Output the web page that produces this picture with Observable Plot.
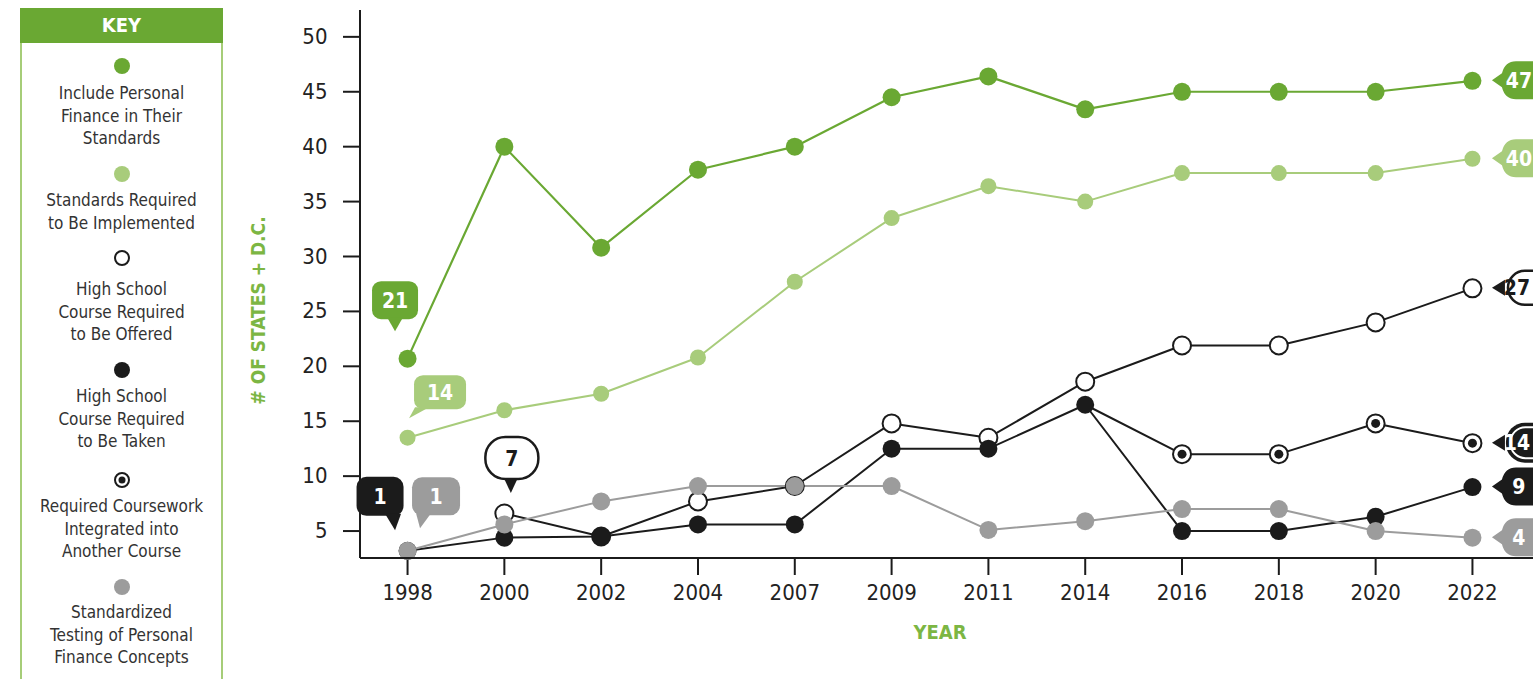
<!DOCTYPE html>
<html>
<head>
<meta charset="utf-8">
<script src="https://cdn.jsdelivr.net/npm/d3@7"></script>
<script src="https://cdn.jsdelivr.net/npm/@observablehq/plot@0.6"></script>
<style>
  html, body { margin: 0; padding: 0; background: #fff; overflow: hidden; }
  body { width: 1533px; height: 679px; position: relative;
    font-family: "Liberation Sans Narrow", "DejaVu Sans Condensed", "Roboto Condensed", Roboto, sans-serif; }
  #chart { position: absolute; left: 0; top: 0; }
  #key { position: absolute; left: 20px; top: 8px; width: 203px; height: 720px;
    border: 2px solid #a6cd78; box-sizing: border-box; }
  #key .head { position: absolute; left: -2px; top: -2px; width: 203px; height: 35px; background: #6aa833;
    color: #fff; font-weight: bold; font-size: 20px; text-align: center; line-height: 35px; }
  #key .item { position: absolute; left: 0; width: 199px; text-align: center; color: #333; font-size: 17px; line-height: 22.5px; }
  #key svg { display: block; margin: 0 auto; }
</style>
</head>
<body>
<div id="chart"></div>
<div id="key"><div class="head">KEY</div></div>
<script>
// ---------- data ----------
const years = ["1998","2000","2002","2004","2007","2009","2011","2014","2016","2018","2020","2022"];
const includeStandards     = [20.7, 40.0, 30.8, 37.9, 40.0, 44.5, 46.4, 43.4, 45.0, 45.0, 45.0, 46.0];
const standardsImplemented = [13.5, 16.0, 17.5, 20.8, 27.7, 33.5, 36.4, 35.0, 37.6, 37.6, 37.6, 38.9];
const courseOffered        = [null, 6.6, 4.5, 7.7, 9.1, 14.8, 13.5, 18.6, 21.9, 21.9, 24.0, 27.1];
const courseTaken          = [3.2, 4.4, 4.5, 5.6, 5.6, 12.5, 12.5, 16.5, 5.0, 5.0, 6.3, 9.0];
const courseworkIntegrated = [null, null, null, null, null, null, null, 16.5, 12.0, 12.0, 14.8, 13.0];
const standardizedTesting  = [3.2, 5.6, 7.7, 9.1, 9.1, 9.1, 5.1, 5.9, 7.0, 7.0, 5.0, 4.4];
const branchYear = "2014"; // integrated series branches off "course taken" here (no own marker)

const seriesNames = ["Include Personal Finance in Their Standards", "Standards Required to Be Implemented",
  "High School Course Required to Be Offered", "High School Course Required to Be Taken",
  "Required Coursework Integrated into Another Course", "Standardized Testing of Personal Finance Concepts"];
const keyLines = [["Include Personal","Finance in Their","Standards"], ["Standards Required","to Be Implemented"],
  ["High School","Course Required","to Be Offered"], ["High School","Course Required","to Be Taken"],
  ["Required Coursework","Integrated into","Another Course"], ["Standardized","Testing of Personal","Finance Concepts"]];

const startLabels = ["21", "14", "7", "1", "1"];          // first-year callouts
const startLabelYears = ["1998", "1998", "2000", "1998", "1998"];
const endLabels = ["47", "40", "27", "14", "9", "4"];      // 2022 tags

const yTicks = [5, 10, 15, 20, 25, 30, 35, 40, 45, 50];
const yLabel = "# OF STATES + D.C.";
const xLabel = "YEAR";

// ---------- styles ----------
const FONT = '"Liberation Sans Narrow", "DejaVu Sans Condensed", "Roboto Condensed", Roboto, sans-serif';
const GREEN = "#6aa833", LIGHT = "#a8cc7b", BLACK = "#1b1b1b", GRAY = "#9c9c9c", LABELGREEN = "#7cb643";

const rows = (vals) => years.map((y, i) => ({year: y, value: vals[i]})).filter(d => d.value != null);
const dGreen = rows(includeStandards), dLight = rows(standardsImplemented), dOffered = rows(courseOffered),
      dTaken = rows(courseTaken), dIntegrated = rows(courseworkIntegrated), dTesting = rows(standardizedTesting);
const dIntegratedDots = dIntegrated.filter(d => d.year !== branchYear);

// callouts
function callouts(index, scales, values, dim) {
  const g = d3.create("svg:g").attr("font-family", FONT).attr("font-weight", "bold").attr("font-size", 21);
  const x = scales.x, y = scales.y;
  const startVals = [includeStandards[0], standardsImplemented[0], courseOffered[1], courseTaken[0], standardizedTesting[0]];
  const bubbleStyle = [
    {fill: GREEN, text: "#fff", cx: -12, cy: -58, w: 46, h: 38, r: 9, base: [-20, -4], tip: [-12, -27]},
    {fill: LIGHT, text: "#fff", cx: 33, cy: -45, w: 52, h: 34, r: 9, base: [8, 22], tip: [2, -19]},
    {fill: "#fff", stroke: BLACK, text: BLACK, cx: 8, cy: -55, w: 53, h: 42, r: 20, base: [0, 14], tip: [7, -20], blackTip: true},
    {fill: BLACK, text: "#fff", cx: -27, cy: -54, w: 47, h: 39, r: 10, base: [-22, -6], tip: [-12, -20]},
    {fill: GRAY, text: "#fff", cx: 29, cy: -54, w: 48, h: 38, r: 10, base: [9, 24], tip: [13, -22]}
  ];
  startLabels.forEach((t, i) => {
    const s = bubbleStyle[i];
    const px = x(startLabelYears[i]), py = y(startVals[i]);
    const cx = px + s.cx, cy = py + s.cy;
    const bottom = cy + s.h / 2;
    const gg = g.append("g");
    if (s.blackTip) {
      gg.append("path").attr("d", `M${px + s.base[0]},${bottom - 1}L${px + s.base[1]},${bottom - 1}L${px + s.tip[0]},${py + s.tip[1]}Z`).attr("fill", BLACK);
      gg.append("rect").attr("x", cx - s.w / 2).attr("y", cy - s.h / 2).attr("width", s.w).attr("height", s.h)
        .attr("rx", s.r).attr("fill", "#fff").attr("stroke", BLACK).attr("stroke-width", 2.5);
    } else {
      gg.append("rect").attr("x", cx - s.w / 2).attr("y", cy - s.h / 2).attr("width", s.w).attr("height", s.h)
        .attr("rx", s.r).attr("fill", s.fill);
      gg.append("path").attr("d", `M${px + s.base[0]},${bottom - 2}L${px + s.base[1]},${bottom - 2}L${px + s.tip[0]},${py + s.tip[1]}Z`).attr("fill", s.fill);
    }
    gg.append("text").attr("x", cx).attr("y", cy).attr("dy", "0.36em").attr("text-anchor", "middle")
      .attr("fill", s.text).text(t);
  });
  // end tags
  const endVals = [includeStandards, standardsImplemented, courseOffered, courseworkIntegrated, courseTaken, standardizedTesting].map(a => a[a.length - 1]);
  const lastYear = years[years.length - 1];
  const tagStyle = [
    {kind: "tag", fill: GREEN}, {kind: "tag", fill: LIGHT}, {kind: "outline"},
    {kind: "ring"}, {kind: "tag", fill: BLACK}, {kind: "tag", fill: GRAY}
  ];
  endLabels.forEach((t, i) => {
    const s = tagStyle[i];
    const px = x(lastYear) + 20, py = y(endVals[i]);
    const gg = g.append("g").attr("transform", `translate(${px},${py})`);
    if (s.kind === "tag") {
      gg.append("path").attr("d", "M0,0L10,-7Q13,-19 24,-19H90V19H24Q13,19 10,7Z").attr("fill", s.fill);
      gg.append("text").attr("x", 27).attr("dy", "0.36em").attr("fill", "#fff").text(t);
    } else if (s.kind === "outline") {
      gg.append("path").attr("d", "M0,0L13,-8L13,8Z").attr("fill", BLACK);
      gg.append("rect").attr("x", 16).attr("y", -17).attr("width", 70).attr("height", 34).attr("rx", 17)
        .attr("fill", "#fff").attr("stroke", BLACK).attr("stroke-width", 2.5);
      gg.append("text").attr("x", 25).attr("dy", "0.36em").attr("fill", BLACK).text(t);
    } else {
      gg.append("path").attr("d", "M0,0L13,-8L13,8Z").attr("fill", BLACK);
      gg.append("rect").attr("x", 14).attr("y", -20).attr("width", 80).attr("height", 40).attr("rx", 19).attr("fill", BLACK);
      gg.append("rect").attr("x", 18.5).attr("y", -15.5).attr("width", 70).attr("height", 31).attr("rx", 15)
        .attr("fill", BLACK).attr("stroke", "#fff").attr("stroke-width", 2);
      gg.append("text").attr("x", 25).attr("dy", "0.36em").attr("fill", "#fff").text(t);
    }
  });
  // axis lines
  const left = dim.marginLeft, bottom = dim.height - dim.marginBottom;
  g.append("line").attr("x1", left).attr("x2", left).attr("y1", dim.marginTop).attr("y2", bottom).attr("stroke", BLACK).attr("stroke-width", 2);
  g.append("line").attr("x1", left).attr("x2", dim.width).attr("y1", bottom).attr("y2", bottom).attr("stroke", BLACK).attr("stroke-width", 2);
  return g.node();
}

const chart = Plot.plot({
  width: 1533,
  height: 679,
  marginLeft: 360,
  marginRight: 14,
  marginTop: 10,
  marginBottom: 121,
  style: {fontFamily: FONT, color: "#222", background: "transparent", overflow: "visible"},
  x: {type: "point", domain: years, padding: 0.486, round: false},
  y: {domain: [2.5, 52.4]},
  marks: [
    Plot.axisY({ticks: yTicks, tickSize: 17, tickPadding: 16, label: null, fontSize: 22, strokeWidth: 2, stroke: BLACK}),
    Plot.axisX({tickSize: 17, tickPadding: 9, label: null, fontSize: 22, strokeWidth: 2, stroke: BLACK}),
    Plot.text([yLabel], {frameAnchor: "left", textAnchor: "middle", dx: -102, dy: 26, rotate: -90, fill: LABELGREEN, fontWeight: "bold", fontSize: 19}),
    Plot.text([xLabel], {frameAnchor: "bottom", dy: 80, fill: LABELGREEN, fontWeight: "bold", fontSize: 20}),
    // lines
    Plot.line(dGreen, {x: "year", y: "value", stroke: GREEN, strokeWidth: 2.2}),
    Plot.line(dLight, {x: "year", y: "value", stroke: LIGHT, strokeWidth: 2}),
    Plot.line(dOffered, {x: "year", y: "value", stroke: BLACK, strokeWidth: 2}),
    Plot.line(dIntegrated, {x: "year", y: "value", stroke: BLACK, strokeWidth: 2}),
    Plot.line(dTaken, {x: "year", y: "value", stroke: BLACK, strokeWidth: 2}),
    Plot.line(dTesting, {x: "year", y: "value", stroke: GRAY, strokeWidth: 2}),
    // dots
    Plot.dot(dGreen, {x: "year", y: "value", r: 9, fill: GREEN}),
    Plot.dot(dLight, {x: "year", y: "value", r: 8, fill: LIGHT}),
    Plot.dot(dOffered, {x: "year", y: "value", r: 9, fill: "#fff", stroke: BLACK, strokeWidth: 2}),
    Plot.dot(dIntegratedDots, {x: "year", y: "value", r: 9, fill: "#fff", stroke: BLACK, strokeWidth: 2}),
    Plot.dot(dIntegratedDots, {x: "year", y: "value", r: 4.5, fill: BLACK}),
    Plot.dot(dTaken, {x: "year", y: "value", r: 9, fill: BLACK}),
    Plot.dot(dTesting, {x: "year", y: "value", r: 9, fill: GRAY}),
    callouts
  ]
});
document.getElementById("chart").appendChild(chart);

// ---------- key ----------
const key = document.getElementById("key");
const markerTops = [47, 155, 239, 351, 461, 568];
const markerKinds = [{fill: GREEN}, {fill: LIGHT}, {fill: "#fff", stroke: BLACK}, {fill: BLACK}, {fill: "#fff", stroke: BLACK, inner: true}, {fill: GRAY}];
const textGaps = [7, 6, 11, 6, 6, 5];
keyLines.forEach((lines, i) => {
  const item = document.createElement("div");
  item.className = "item";
  item.style.top = markerTops[i] + "px";
  const m = markerKinds[i];
  item.innerHTML = `<svg width="18" height="18"><circle cx="9" cy="9" r="${m.stroke ? 7 : 8}" fill="${m.fill}" ${m.stroke ? `stroke="${m.stroke}" stroke-width="2"` : ""}/>${m.inner ? `<circle cx="9" cy="9" r="3.5" fill="${BLACK}"/>` : ""}</svg>` +
    `<div style="margin-top:${textGaps[i]}px">${lines.join("<br>")}</div>`;
  item.title = seriesNames[i];
  key.appendChild(item);
});
</script>
</body>
</html>
